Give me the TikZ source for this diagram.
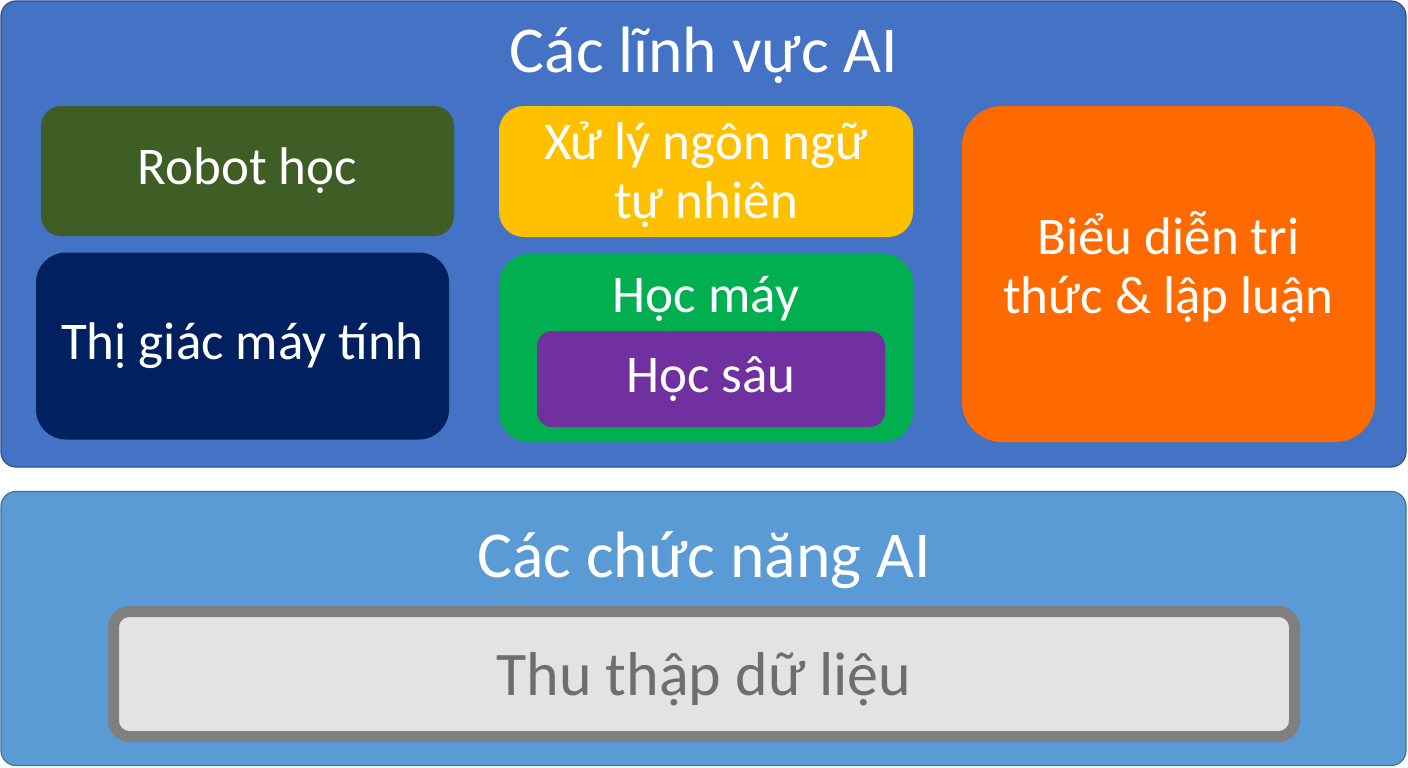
\documentclass[tikz,border=0pt]{standalone}
\usepackage{fontspec}
\setmainfont{Carlito}
\usepackage{tikz}
\definecolor{fieldBlue}{RGB}{68, 114, 196}
\definecolor{fieldEdge}{RGB}{47, 82, 143}
\definecolor{funcBlue}{RGB}{91, 155, 213}
\definecolor{funcEdge}{RGB}{65, 113, 156}
\definecolor{robotGreen}{RGB}{62, 94, 38}
\definecolor{visionNavy}{RGB}{0, 32, 96}
\definecolor{nlpYellow}{RGB}{255, 192, 0}
\definecolor{mlGreen}{RGB}{0, 176, 80}
\definecolor{dlPurple}{RGB}{112, 48, 160}
\definecolor{krOrange}{RGB}{255, 106, 0}
\definecolor{dataGrey}{RGB}{127, 127, 127}
\definecolor{dataFill}{RGB}{227, 227, 227}
\definecolor{dataText}{RGB}{110, 110, 110}
\usetikzlibrary{positioning}

\tikzset{
    band/.style={rectangle, rounded corners=15pt, line width=1.2pt, inner sep=0pt},
    field/.style={
        rectangle,
        inner sep=0pt,
        align=center,
        text=white,
        font=\fontsize{53}{59}\selectfont
    },
    headline/.style={text=white, inner sep=0pt, font=\fontsize{65.5}{70}\selectfont}
}

\begin{document}
\begin{tikzpicture}[x=1pt, y=-1pt]
    \useasboundingbox (0,0) rectangle (1408,768);
    % upper band
    \node[band, draw=fieldEdge, fill=fieldBlue, minimum width=1405pt, minimum height=466pt] (fields) at (703.5,234) {};
    \node[headline, anchor=base] (fieldsTitle) at (704,73) {Các lĩnh vực AI};
    \node[field, fill=robotGreen, rounded corners=20pt, minimum width=413pt, minimum height=130pt] (robot) at (247.5,171) {Robot học};
    \node[field, fill=visionNavy, rounded corners=30pt, minimum width=413pt, minimum height=187pt] (vision) at (242.5,346) {Thị giác máy tính};
    \node[field, fill=nlpYellow, rounded corners=25pt, minimum width=414pt, minimum height=131pt] (nlp) at (706,171.5) {};
    \node[field] (nlpLabel) at (706,175) {Xử lý ngôn ngữ\\tự nhiên};
    \node[field, fill=mlGreen, rounded corners=30pt, minimum width=414pt, minimum height=188pt] (ml) at (706,348) {};
    \node[field, anchor=base] (mlLabel) at (706,312) {Học máy};
    \node[field, fill=dlPurple, rounded corners=15pt, minimum width=348pt, minimum height=96pt] (dl) at (711,379) {Học sâu};
    \node[field, fill=krOrange, rounded corners=40pt, minimum width=413pt, minimum height=336pt] (kr) at (1168.5,274) {};
    \node[field] (krLabel) at (1168.5,267) {Biểu diễn tri\\thức \& lập luận};
    % lower band
    \node[band, draw=funcEdge, fill=funcBlue, minimum width=1405pt, minimum height=274pt] (funcs) at (703.5,628.5) {};
    \node[headline, anchor=base] (funcsTitle) at (704,577) {Các chức năng AI};
    \node[rectangle, rounded corners=16pt, draw=dataGrey, line width=11pt, fill=dataFill,
        minimum width=1181pt, minimum height=125pt] (data) at (704,674) {};
    \node[field, text=dataText, anchor=base, font=\fontsize{62}{70}\selectfont] (dataLabel) at (704,695) {Thu thập dữ liệu};
\end{tikzpicture}
\end{document}
